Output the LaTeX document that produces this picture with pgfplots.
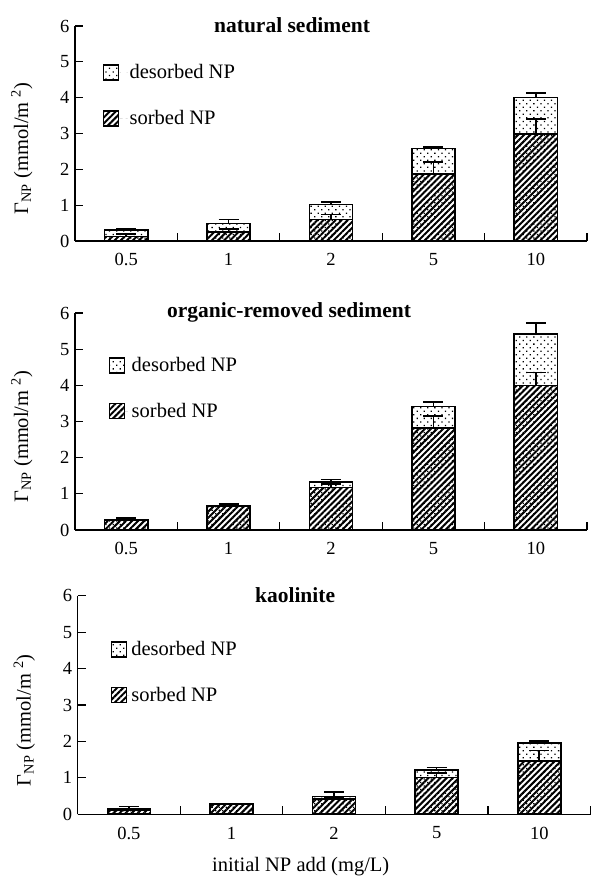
\documentclass[border=0pt]{standalone}
\usepackage{pgfplots}
\pgfplotsset{compat=1.18}
\usepackage{fontspec}
\setmainfont{Liberation Serif}
\usetikzlibrary{patterns.meta}

\pgfplotsset{
  panel/.style={
    scale only axis,
    xmin=-0.5, xmax=4.5, ymin=0, ymax=6,
    axis x line*=bottom, axis y line*=left,
    axis line style={line width=1.2pt, black},
    xtick={0,1,2,3,4},
    xticklabels={0.5,1,2,5,10},
    minor xtick={0.5,1.5,2.5,3.5,4.5},
    ytick={0,1,2,3,4,5,6},
    tick align=inside,
    major tick length=8pt, minor tick length=8pt,
    tick style={line width=1.1pt, black},
    major x tick style={draw=none},
    minor x tick style={draw=black, line width=1.1pt},
    /pgf/number format/assume math mode=true,
    tick label style={font=\fontsize{18.5}{19}\selectfont},
    xticklabel style={yshift=-9pt},
    yticklabel style={xshift=-2pt},
    ylabel={Γ\textsubscript{NP} (mmol/m \textsuperscript{2})},
    ylabel style={font=\fontsize{20.5}{21}\selectfont, at={(axis description cs:-0.104,0.43)}, anchor=center},
    title style={font=\fontsize{21.5}{22}\selectfont\bfseries, anchor=center, yshift=-5pt},
    legend style={draw=none, fill=none, inner sep=0pt, font=\fontsize{20.5}{21}\selectfont, row sep=26pt, anchor=north west},
    legend cell align=left,
  },
  mybar/.style={ybar, bar width=43pt, bar shift=0pt, draw=black, line width=1.6pt,
    legend image code/.code={\draw[##1, line width=1.5pt] (0pt,-7.5pt) rectangle (15pt,7.5pt);\path[draw=none] (15pt,0pt) -- (\legendgap,0pt);},
    error bars/y dir=plus, error bars/y explicit,
    error bars/error bar style={line width=1.6pt, black},
    error bars/error mark options={rotate=90, mark size=10pt, line width=1.6pt, black}},
  desorbed/.style={mybar, pattern={Dots[distance=5pt, radius=0.9pt, angle=45]}},
  sorbed/.style={mybar, pattern={Lines[angle=45, distance=4.3pt, line width=2pt]}},
}

\begin{document}
\begin{tikzpicture}
\path[use as bounding box] (0pt,0pt) rectangle (593pt,878pt);

% ---------- natural sediment ----------
\def\legendgap{24pt}
\begin{axis}[panel, at={(75pt,637pt)}, anchor=south west, width=512pt, height=215pt,
  title={natural sediment}, title style={at={(axis description cs:0.424,1.0)}},
  legend style={at={(axis description cs:0.054,0.83)}}]
\addplot[desorbed] coordinates {(0,0.30) +- (0,0.04) (1,0.49) +- (0,0.11) (2,1.02) +- (0,0.06) (3,2.58) +- (0,0.05) (4,4.00) +- (0,0.13)};
\addlegendentry{desorbed NP}
\addplot[sorbed] coordinates {(0,0.13) +- (0,0.07) (1,0.25) +- (0,0.08) (2,0.60) +- (0,0.14) (3,1.87) +- (0,0.34) (4,2.98) +- (0,0.42)};
\addlegendentry{sorbed NP}
\end{axis}

% ---------- organic-removed sediment ----------
\def\legendgap{20pt}
\begin{axis}[panel, at={(75pt,348pt)}, anchor=south west, width=512pt, height=217pt,
  title={organic-removed sediment}, title style={at={(axis description cs:0.418,1.0)}},
  legend style={at={(axis description cs:0.066,0.805)}}]
\addplot[desorbed] coordinates {(0,0.28) +- (0,0.05) (1,0.66) +- (0,0.06) (2,1.32) +- (0,0.08) (3,3.41) +- (0,0.13) (4,5.42) +- (0,0.31)};
\addlegendentry{desorbed NP}
\addplot[sorbed] coordinates {(0,0.27) +- (0,0) (1,0.65) +- (0,0) (2,1.18) +- (0,0.10) (3,2.82) +- (0,0.33) (4,4.00) +- (0,0.36)};
\addlegendentry{sorbed NP}
\end{axis}

% ---------- kaolinite ----------
\def\legendgap{18pt}
\begin{axis}[panel, at={(77.6pt,63.7pt)}, anchor=south west, width=513pt, height=218.6pt,
  title={kaolinite}, title style={at={(axis description cs:0.424,1.0)}},
  xlabel={initial NP add (mg/L)},
  xlabel style={font=\fontsize{20.5}{21}\selectfont, at={(axis description cs:0.435,0)}, anchor=center, yshift=-52pt},
  legend style={at={(axis description cs:0.064,0.8)}}]
\addplot[desorbed] coordinates {(0,0.15) +- (0,0.06) (1,0.28) +- (0,0.01) (2,0.49) +- (0,0.12) (3,1.21) +- (0,0.07) (4,1.95) +- (0,0.07)};
\addlegendentry{desorbed NP}
\addplot[sorbed] coordinates {(0,0.12) +- (0,0.02) (1,0.27) +- (0,0) (2,0.42) +- (0,0.06) (3,1.01) +- (0,0.12) (4,1.47) +- (0,0.28)};
\addlegendentry{sorbed NP}
\end{axis}
\end{tikzpicture}
\end{document}
